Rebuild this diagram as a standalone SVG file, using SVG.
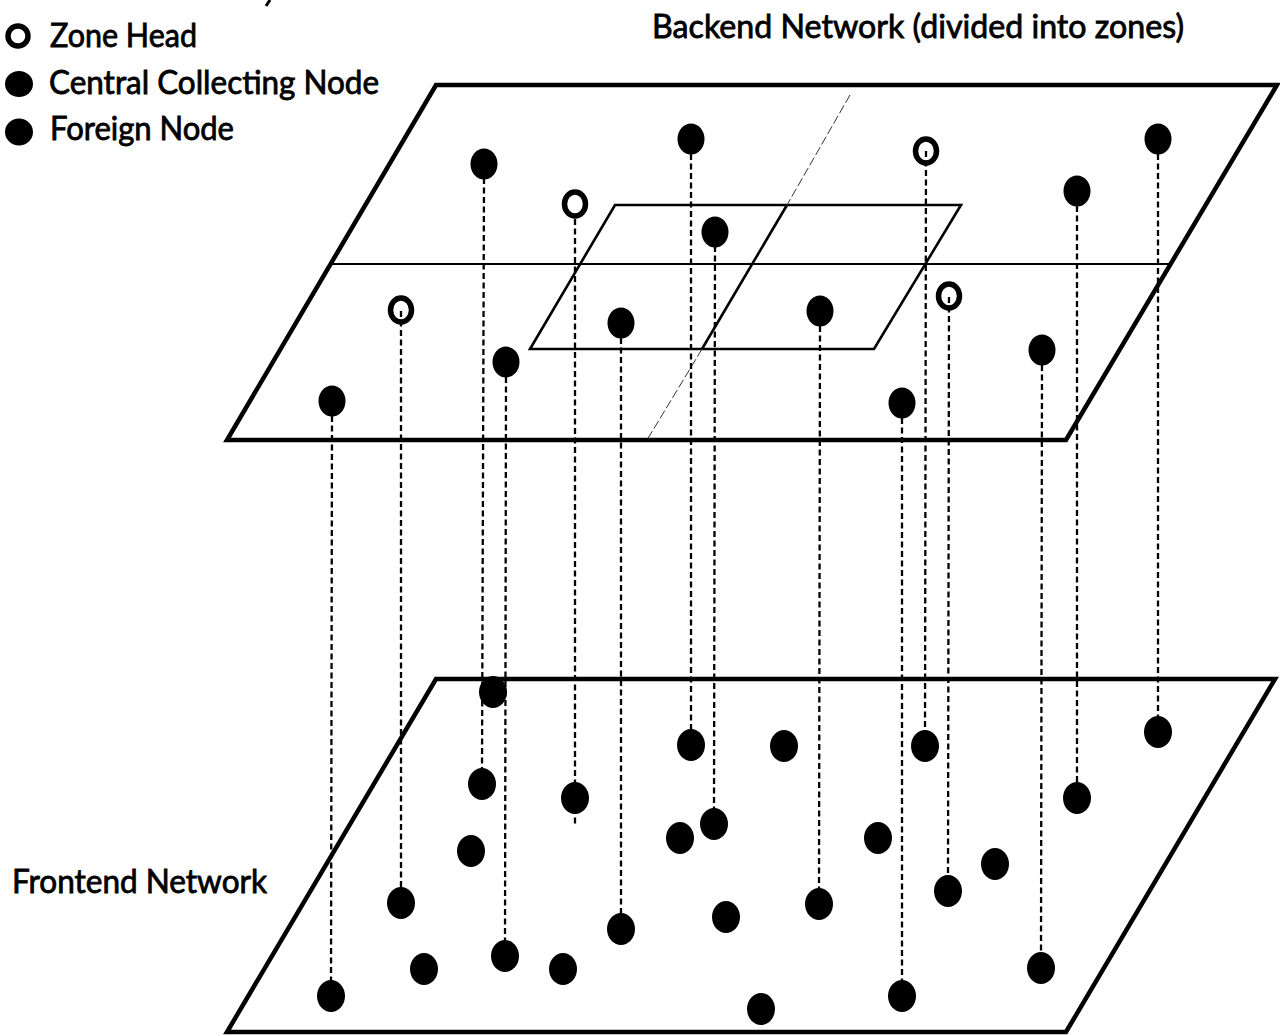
<svg xmlns="http://www.w3.org/2000/svg" width="1280" height="1036" viewBox="0 0 1280 1036">
  <style>
    .label { font-family: Lato, "Open Sans", "Liberation Sans", sans-serif; font-size: 32px; fill: #000; stroke: #000; stroke-width: 0.8; }
    .plane { fill: none; stroke: #000; stroke-width: 4.5; stroke-linejoin: miter; }
    .divider { fill: none; stroke: #000; stroke-width: 2; }
    .zone { fill: none; stroke: #000; stroke-width: 2.6; }
    .guide { fill: none; stroke: #333; stroke-width: 1; stroke-dasharray: 9 3; }
    .link { fill: none; stroke: #000; stroke-width: 2.3; stroke-dasharray: 6 3.5; }
    .node { fill: #000; }
    .head { fill: none; stroke: #000; stroke-width: 5.5; }
  </style>

  <!-- legend -->
  <g id="legend">
    <path d="M270 0 L266 6" stroke="#000" stroke-width="3"/>
    <ellipse class="head" cx="18" cy="36" rx="10" ry="10"/>
    <text class="label" x="50" y="47" textLength="147" lengthAdjust="spacingAndGlyphs">Zone Head</text>
    <ellipse class="node" cx="19" cy="84" rx="14" ry="13"/>
    <text class="label" x="49" y="94" textLength="330" lengthAdjust="spacingAndGlyphs">Central Collecting Node</text>
    <ellipse class="node" cx="19" cy="132" rx="14" ry="13.5"/>
    <text class="label" x="50" y="140" textLength="184" lengthAdjust="spacingAndGlyphs">Foreign Node</text>
  </g>

  <!-- plane titles -->
  <text id="backend-title" class="label" x="652" y="38" textLength="532" lengthAdjust="spacingAndGlyphs">Backend Network (divided into zones)</text>
  <text id="frontend-title" class="label" x="12" y="893" textLength="255" lengthAdjust="spacingAndGlyphs">Frontend Network</text>

  <!-- backend plane with its zone divisions -->
  <g id="backend-plane">
    <polygon class="plane" points="436,85 1277,85 1066,440 227,440"/>
    <line class="divider" x1="331" y1="264" x2="1172" y2="264"/>
    <polygon class="zone" points="615,205 961,205 874,349 530,349"/>
    <line class="guide" x1="850" y1="95" x2="787" y2="205"/>
    <line class="zone" x1="787" y1="205" x2="702" y2="349"/>
    <line class="guide" x1="702" y1="349" x2="647" y2="440"/>
  </g>

  <!-- frontend plane -->
  <g id="frontend-plane">
    <polygon class="plane" points="436,679 1275,679 1066,1032 227,1032"/>
  </g>

  <!-- vertical mapping between backend and frontend nodes -->
  <g id="connectors">
    <line class="link" x1="484" y1="178" x2="482" y2="770"/>
    <line class="link" x1="691" y1="154" x2="691" y2="731"/>
    <line class="link" x1="575" y1="219" x2="575" y2="826"/>
    <line class="link" x1="715" y1="246" x2="714" y2="810"/>
    <line class="link" x1="401" y1="311" x2="401" y2="889"/>
    <line class="link" x1="621" y1="338" x2="621" y2="915"/>
    <line class="link" x1="506" y1="377" x2="505" y2="942"/>
    <line class="link" x1="332" y1="416" x2="331" y2="982"/>
    <line class="link" x1="926" y1="151" x2="925" y2="732"/>
    <line class="link" x1="1158" y1="154" x2="1158" y2="718"/>
    <line class="link" x1="1077" y1="206" x2="1077" y2="784"/>
    <line class="link" x1="820" y1="326" x2="819" y2="890"/>
    <line class="link" x1="949" y1="297" x2="948" y2="877"/>
    <line class="link" x1="1042" y1="365" x2="1041" y2="954"/>
    <line class="link" x1="902" y1="418" x2="902" y2="982"/>
  </g>

  <!-- backend nodes -->
  <g id="backend-nodes">
    <ellipse id="b1" class="node" cx="484" cy="164" rx="13.5" ry="15.5"/>
    <ellipse id="b2" class="node" cx="691" cy="139" rx="13.5" ry="15.5"/>
    <ellipse id="b3" class="head" cx="575" cy="204" rx="10.5" ry="12"/>
    <ellipse id="b4" class="node" cx="715" cy="232" rx="13.5" ry="15.5"/>
    <ellipse id="b5" class="head" cx="401" cy="310" rx="10.5" ry="12"/>
    <ellipse id="b6" class="node" cx="621" cy="323" rx="13.5" ry="15.5"/>
    <ellipse id="b7" class="node" cx="506" cy="362" rx="13.5" ry="15.5"/>
    <ellipse id="b8" class="node" cx="332" cy="401" rx="13.5" ry="15.5"/>
    <ellipse id="b9" class="head" cx="926" cy="151" rx="10.5" ry="12"/>
    <ellipse id="b10" class="node" cx="1158" cy="139" rx="13.5" ry="15.5"/>
    <ellipse id="b11" class="node" cx="1077" cy="191" rx="13.5" ry="15.5"/>
    <ellipse id="b12" class="node" cx="820" cy="311" rx="13.5" ry="15.5"/>
    <ellipse id="b13" class="head" cx="949" cy="296" rx="10.5" ry="12"/>
    <ellipse id="b14" class="node" cx="1042" cy="350" rx="13.5" ry="15.5"/>
    <ellipse id="b15" class="node" cx="902" cy="403" rx="13.5" ry="15.5"/>
  </g>

  <!-- frontend nodes -->
  <g id="frontend-nodes">
    <ellipse id="f1" class="node" cx="493" cy="692" rx="14" ry="16"/>
    <ellipse id="f2" class="node" cx="691" cy="745" rx="14" ry="16"/>
    <ellipse id="f3" class="node" cx="784" cy="746" rx="14" ry="16"/>
    <ellipse id="f4" class="node" cx="925" cy="746" rx="14" ry="16"/>
    <ellipse id="f5" class="node" cx="1158" cy="732" rx="14" ry="16"/>
    <ellipse id="f6" class="node" cx="482" cy="784" rx="14" ry="16"/>
    <ellipse id="f7" class="node" cx="575" cy="798" rx="14" ry="16"/>
    <ellipse id="f8" class="node" cx="1077" cy="798" rx="14" ry="16"/>
    <ellipse id="f9" class="node" cx="714" cy="824" rx="14" ry="16"/>
    <ellipse id="f10" class="node" cx="680" cy="838" rx="14" ry="16"/>
    <ellipse id="f11" class="node" cx="878" cy="838" rx="14" ry="16"/>
    <ellipse id="f12" class="node" cx="471" cy="851" rx="14" ry="16"/>
    <ellipse id="f13" class="node" cx="995" cy="864" rx="14" ry="16"/>
    <ellipse id="f14" class="node" cx="948" cy="891" rx="14" ry="16"/>
    <ellipse id="f15" class="node" cx="401" cy="903" rx="14" ry="16"/>
    <ellipse id="f16" class="node" cx="726" cy="917" rx="14" ry="16"/>
    <ellipse id="f17" class="node" cx="819" cy="904" rx="14" ry="16"/>
    <ellipse id="f18" class="node" cx="621" cy="929" rx="14" ry="16"/>
    <ellipse id="f19" class="node" cx="505" cy="956" rx="14" ry="16"/>
    <ellipse id="f20" class="node" cx="424" cy="969" rx="14" ry="16"/>
    <ellipse id="f21" class="node" cx="563" cy="969" rx="14" ry="16"/>
    <ellipse id="f22" class="node" cx="1041" cy="968" rx="14" ry="16"/>
    <ellipse id="f23" class="node" cx="331" cy="996" rx="14" ry="16"/>
    <ellipse id="f24" class="node" cx="902" cy="996" rx="14" ry="16"/>
    <ellipse id="f25" class="node" cx="761" cy="1009" rx="14" ry="16"/>
  </g>
</svg>
